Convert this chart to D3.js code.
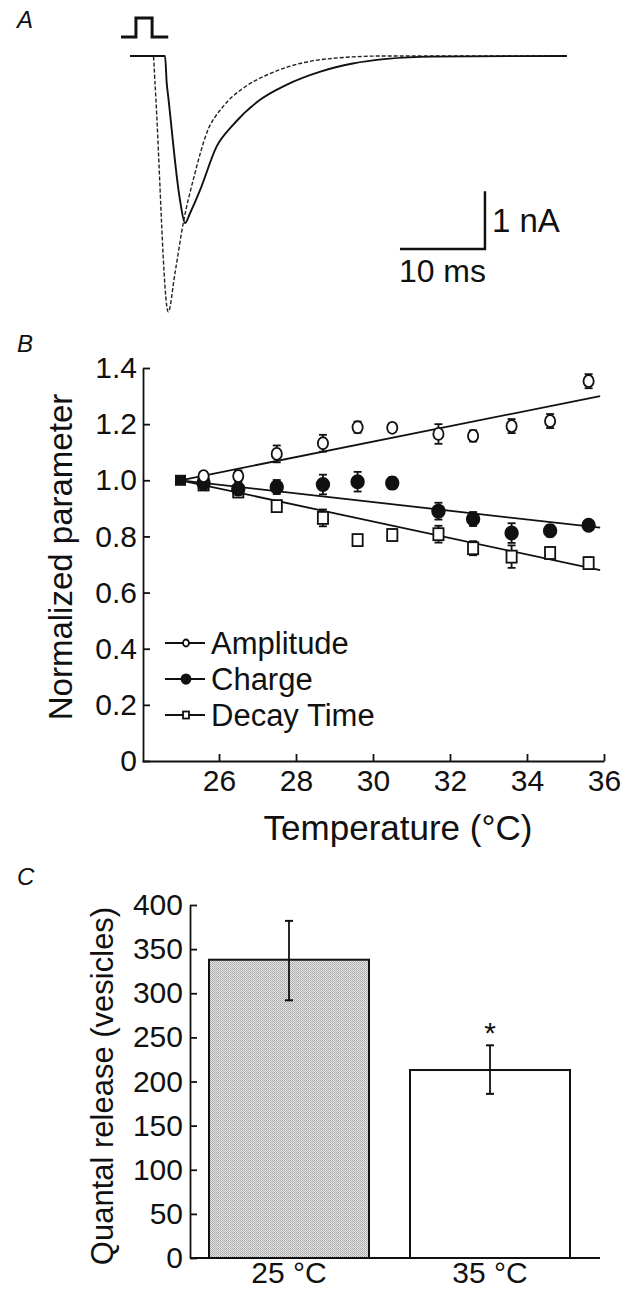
<!DOCTYPE html>
<html>
<head>
<meta charset="utf-8">
<script src="https://cdn.jsdelivr.net/npm/d3@7"></script>
<style>
  body { margin: 0; background: #fff; }
  svg { display: block; font-family: "Liberation Sans", Arial, Helvetica, sans-serif; }
  .axis path, .axis line { stroke: #111; stroke-width: 1.8; }
  .axis text { font-size: 30px; fill: #111; }
</style>
</head>
<body>
<div id="chart-area"></div>
<script>
// ---- data ----

// Panel A: two EPSC traces (time in ms, current in nA)
let traceSolid = [[0, 0], [4.12, 0], [4.32, -0.47], [4.5, -0.71], [5.88, -2.5], [6.47, -2.9], [7.06, -2.73],
  [8.24, -2.33], [10.2, -1.57], [12.1, -1.2], [15.3, -0.76], [18.4, -0.5], [22.4, -0.27], [26.2, -0.13],
  [30.2, -0.05], [35.6, -0.01], [51.4, 0]];
let traceDashed = [[0, 0], [2.74, 0], [2.94, -0.47], [4.5, -4.44], [5.29, -3.77], [6.27, -2.9], [7.65, -2.03],
  [9.02, -1.34], [10.94, -0.88], [13.3, -0.56], [16.1, -0.33], [20, -0.13], [23.9, -0.04], [29.8, 0], [51.4, 0]];
// stimulus pulse (ms, on/off)
let pulse = [[-1.06, 0], [0.7, 0], [0.7, 1], [2.6, 1], [2.6, 0], [4.5, 0]];

// Panel B: normalized parameters vs temperature
let temps = [25.6, 26.5, 27.5, 28.7, 29.6, 30.5, 31.7, 32.6, 33.6, 34.6, 35.6];
let amplitude = [1.015, 1.015, 1.094, 1.132, 1.189, 1.187, 1.165, 1.158, 1.193, 1.211, 1.353];
let amplitudeErr = [0.015, 0.02, 0.03, 0.03, 0.02, 0.015, 0.035, 0.02, 0.025, 0.025, 0.025];
let charge = [0.99, 0.969, 0.976, 0.985, 0.995, 0.99, 0.89, 0.862, 0.812, 0.82, 0.84];
let chargeErr = [0.01, 0.02, 0.025, 0.035, 0.035, 0.02, 0.03, 0.025, 0.035, 0.02, 0.015];
let decay = [0.985, 0.96, 0.908, 0.866, 0.787, 0.805, 0.808, 0.758, 0.728, 0.741, 0.705];
let decayErr = [0.01, 0.015, 0.015, 0.03, 0.01, 0.02, 0.03, 0.025, 0.04, 0.02, 0.02];
let refPoint = [25, 1.0];
let ampFit = [[25, 1.0], [35.9, 1.30]];
let chargeFit = [[25, 1.0], [35.9, 0.831]];
let decayFit = [[25, 1.0], [35.9, 0.68]];
let tempTicks = [26, 28, 30, 32, 34, 36];
let normTicks = [0, 0.2, 0.4, 0.6, 0.8, 1.0, 1.2, 1.4];

// Panel C: quantal release
let conditions = ["25 °C", "35 °C"];
let release = [338, 213];
let releaseLow = [292, 186];
let releaseHigh = [382, 241];
let releaseTicks = [0, 50, 100, 150, 200, 250, 300, 350, 400];

// ---- svg ----
let svg = d3.select("#chart-area").append("svg")
  .attr("width", 631)
  .attr("height", 1291);

// pattern for the stippled bar
let pat = svg.append("defs").append("pattern")
  .attr("id", "stipple")
  .attr("width", 2).attr("height", 2)
  .attr("patternUnits", "userSpaceOnUse");
pat.append("rect").attr("width", 2).attr("height", 2).attr("fill", "#e2e2e2");
pat.append("rect").attr("width", 1).attr("height", 1).attr("fill", "#a8a8a8");
pat.append("rect").attr("x", 1).attr("y", 1).attr("width", 1).attr("height", 1).attr("fill", "#b8b8b8");

// panel letters
[["A", 28], ["B", 352], ["C", 885]].forEach(p => {
  svg.append("text")
    .attr("x", 17).attr("y", p[1])
    .attr("font-size", 24).attr("font-style", "italic")
    .attr("fill", "#111")
    .text(p[0]);
});

// ================= Panel A =================
let xA = d3.scaleLinear().domain([0, 10]).range([130, 215]);
let yA = d3.scaleLinear().domain([0, -1]).range([56, 113.6]);
let yPulse = d3.scaleLinear().domain([0, 1]).range([37, 18]);

let gA = svg.append("g");

gA.append("path")
  .attr("d", d3.line().x(d => xA(d[0])).y(d => yPulse(d[1]))(pulse))
  .attr("fill", "none").attr("stroke", "#111").attr("stroke-width", 3);

let traceLine = d3.line()
  .x(d => xA(d[0]))
  .y(d => yA(d[1]))
  .curve(d3.curveMonotoneX);

gA.append("path")
  .attr("d", traceLine(traceDashed))
  .attr("fill", "none").attr("stroke", "#222")
  .attr("stroke-width", 1.4)
  .attr("stroke-dasharray", "4,2");

gA.append("path")
  .attr("d", traceLine(traceSolid))
  .attr("fill", "none").attr("stroke", "#111")
  .attr("stroke-width", 1.9);

// scale bar: 10 ms by 1 nA
let barT = 41.76, barI = -3.35;
gA.append("path")
  .attr("d", d3.line()([[xA(barT - 10), yA(barI)], [xA(barT), yA(barI)], [xA(barT), yA(barI + 1)]]))
  .attr("fill", "none").attr("stroke", "#111").attr("stroke-width", 2.5);
gA.append("text")
  .attr("x", xA(barT) + 7).attr("y", yA(barI + 0.5) + 12)
  .attr("font-size", 33).attr("fill", "#111")
  .text("1 nA");
gA.append("text")
  .attr("x", xA(barT - 5)).attr("y", yA(barI) + 33)
  .attr("text-anchor", "middle")
  .attr("font-size", 32).attr("fill", "#111")
  .text("10 ms");

// ================= Panel B =================
let xB = d3.scaleLinear().domain([24, 36]).range([142, 604]);
let yB = d3.scaleLinear().domain([0, 1.4]).range([761, 368]);

let gB = svg.append("g");

let xAxisB = d3.axisBottom(xB)
  .tickValues(tempTicks)
  .tickSizeInner(-7).tickSizeOuter(0)
  .tickPadding(9);
gB.append("g")
  .attr("class", "axis")
  .attr("transform", "translate(0,761)")
  .call(xAxisB);

let yAxisB = d3.axisLeft(yB)
  .tickValues(normTicks)
  .tickFormat(d => d === 0 ? "0" : d3.format(".1f")(d))
  .tickSizeInner(-7).tickSizeOuter(0)
  .tickPadding(6);
gB.append("g")
  .attr("class", "axis")
  .attr("transform", "translate(143,0)")
  .call(yAxisB);

gB.append("text")
  .attr("x", 398).attr("y", 840)
  .attr("text-anchor", "middle")
  .attr("font-size", 35).attr("fill", "#111")
  .text("Temperature (°C)");

gB.append("text")
  .attr("transform", "translate(72,557) rotate(-90)")
  .attr("text-anchor", "middle")
  .attr("font-size", 33).attr("fill", "#111")
  .text("Normalized parameter");

// fit lines
let fitLine = d3.line().x(d => xB(d[0])).y(d => yB(d[1]));
[ampFit, chargeFit, decayFit].forEach(f => {
  gB.append("path")
    .attr("d", fitLine(f))
    .attr("fill", "none").attr("stroke", "#111").attr("stroke-width", 1.8);
});

// series
let series = [
  {name: "Amplitude", values: amplitude, err: amplitudeErr, shape: "circle", filled: false},
  {name: "Charge", values: charge, err: chargeErr, shape: "circle", filled: true},
  {name: "Decay Time", values: decay, err: decayErr, shape: "square", filled: false}
];

function drawMarker(g, shape, filled, cx, cy, size) {
  if (shape === "circle") {
    g.append("ellipse")
      .attr("cx", cx).attr("cy", cy)
      .attr("rx", filled ? size : size * 0.85).attr("ry", filled ? size * 1.05 : size)
      .attr("fill", filled ? "#111" : "#fff")
      .attr("stroke", "#111").attr("stroke-width", 1.8);
  } else {
    g.append("rect")
      .attr("x", cx - size * 0.85).attr("y", cy - size)
      .attr("width", size * 1.7).attr("height", size * 2)
      .attr("fill", filled ? "#111" : "#fff")
      .attr("stroke", "#111").attr("stroke-width", 1.8);
  }
}

series.slice().reverse().forEach(s => {
  let g = gB.append("g");
  temps.forEach((t, i) => {
    let cx = xB(t);
    let lo = yB(s.values[i] - s.err[i]);
    let hi = yB(s.values[i] + s.err[i]);
    g.append("line")
      .attr("x1", cx).attr("x2", cx).attr("y1", lo).attr("y2", hi)
      .attr("stroke", "#111").attr("stroke-width", 1.8);
    [lo, hi].forEach(yy => {
      g.append("line")
        .attr("x1", cx - 4).attr("x2", cx + 4).attr("y1", yy).attr("y2", yy)
        .attr("stroke", "#111").attr("stroke-width", 1.8);
    });
    drawMarker(g, s.shape, s.filled, cx, yB(s.values[i]), s.filled ? 6.3 : 6);
  });
});

// shared starting point
gB.append("rect")
  .attr("x", xB(refPoint[0]) - 5.5).attr("y", yB(refPoint[1]) - 5.5)
  .attr("width", 11).attr("height", 11)
  .attr("fill", "#111");

// legend
let legendY = [643, 679, 715];
series.forEach((s, i) => {
  let g = gB.append("g").attr("transform", "translate(0," + legendY[i] + ")");
  g.append("line")
    .attr("x1", 165).attr("x2", 205)
    .attr("stroke", "#111").attr("stroke-width", 1.8);
  drawMarker(g, s.shape, s.filled, 186, 0, s.filled ? 4.5 : 3.5);
  g.append("text")
    .attr("x", 211).attr("y", 11)
    .attr("font-size", 31).attr("fill", "#111")
    .text(s.name);
});

// ================= Panel C =================
let xC = d3.scaleBand()
  .domain(conditions)
  .range([190, 589])
  .paddingInner(0.204)
  .paddingOuter(0.0945);
let yC = d3.scaleLinear().domain([0, 400]).range([1258, 905]);

let gC = svg.append("g");

let yAxisC = d3.axisLeft(yC)
  .tickValues(releaseTicks)
  .tickSizeInner(-7).tickSizeOuter(0)
  .tickPadding(7);
gC.append("g")
  .attr("class", "axis")
  .attr("transform", "translate(190,0)")
  .call(yAxisC);

gC.selectAll(".bar")
  .data(conditions)
  .enter()
  .append("rect")
  .attr("class", "bar")
  .attr("x", d => xC(d))
  .attr("y", (d, i) => yC(release[i]))
  .attr("width", xC.bandwidth())
  .attr("height", (d, i) => yC(0) - yC(release[i]))
  .attr("fill", (d, i) => i === 0 ? "url(#stipple)" : "#fff")
  .attr("stroke", "#111")
  .attr("stroke-width", 2);

// x axis line (no ticks)
gC.append("line")
  .attr("x1", 190).attr("x2", 600)
  .attr("y1", yC(0)).attr("y2", yC(0))
  .attr("stroke", "#111").attr("stroke-width", 1.8);

// error bars
conditions.forEach((c, i) => {
  let cx = xC(c) + xC.bandwidth() / 2;
  gC.append("line")
    .attr("x1", cx).attr("x2", cx)
    .attr("y1", yC(releaseLow[i])).attr("y2", yC(releaseHigh[i]))
    .attr("stroke", "#111").attr("stroke-width", 1.8);
  [releaseLow[i], releaseHigh[i]].forEach(v => {
    gC.append("line")
      .attr("x1", cx - 4).attr("x2", cx + 4)
      .attr("y1", yC(v)).attr("y2", yC(v))
      .attr("stroke", "#111").attr("stroke-width", 2);
  });
  gC.append("text")
    .attr("x", cx).attr("y", 1283)
    .attr("text-anchor", "middle")
    .attr("font-size", 30).attr("fill", "#111")
    .text(c);
});

// significance star over the 35 °C bar
gC.append("text")
  .attr("x", xC(conditions[1]) + xC.bandwidth() / 2)
  .attr("y", yC(releaseHigh[1]) - 2)
  .attr("text-anchor", "middle")
  .attr("font-size", 30).attr("fill", "#111")
  .text("*");

gC.append("text")
  .attr("transform", "translate(113,1086) rotate(-90)")
  .attr("text-anchor", "middle")
  .attr("font-size", 31).attr("fill", "#111")
  .text("Quantal release (vesicles)");
</script>
</body>
</html>
